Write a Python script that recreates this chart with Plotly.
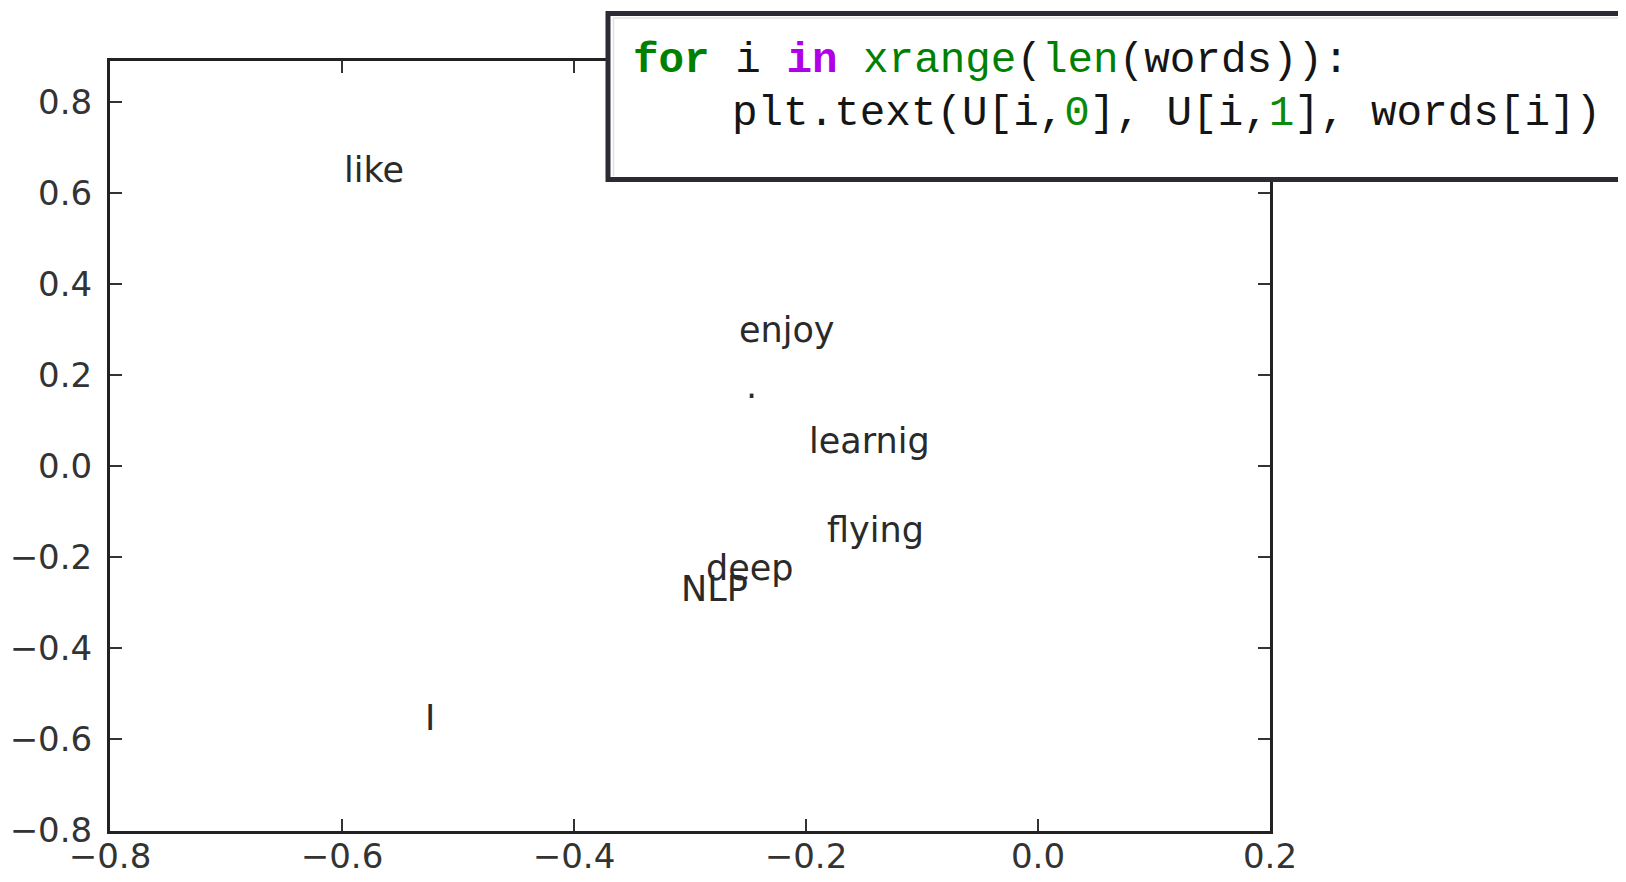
import plotly.graph_objects as go

# ---- data ----
words = ["I", "like", "enjoy", "deep", "learnig", "NLP", "flying", "."]
word_x = [-0.529, -0.599, -0.259, -0.287, -0.198, -0.309, -0.183, -0.253]
word_y = [-0.579, 0.625, 0.275, -0.248, 0.031, -0.294, -0.166, 0.151]

x_ticks = [-0.8, -0.6, -0.4, -0.2, 0.0, 0.2]
x_tick_text = ["\u22120.8", "\u22120.6", "\u22120.4", "\u22120.2", "0.0", "0.2"]
y_ticks = [-0.8, -0.6, -0.4, -0.2, 0.0, 0.2, 0.4, 0.6, 0.8]
y_tick_text = ["\u22120.8", "\u22120.6", "\u22120.4", "\u22120.2", "0.0", "0.2", "0.4", "0.6", "0.8"]

x_range = [-0.8, 0.2]
y_range = [-0.802, 0.89]

code_lines = [
    "<b><span style='color:#008000'>for</span></b>\u00a0i\u00a0"
    "<b><span style='color:#B000E8'>in</span></b>\u00a0"
    "<span style='color:#008000'>xrange</span>(<span style='color:#008000'>len</span>(words)):",
    "plt.text(U[i,<span style='color:#0A8A0A'>0</span>],\u00a0U[i,"
    "<span style='color:#0A8A0A'>1</span>],\u00a0words[i])",
]

# ---- geometry (page pixels; the page body has an 8px margin) ----
OFF = 8
W, H = 1626 - OFF, 882 - 2 * OFF
L, R, T, B = 110, 1270, 61, 831      # plot area in page pixels
PW, PH = R - L, B - T


def px_x(p):
    return (p - L) / PW


def px_y(p):
    return (B - p) / PH


fig = go.Figure()

# invisible trace to establish axes
fig.add_trace(go.Scatter(x=word_x, y=word_y, mode="markers",
                         marker=dict(size=1, opacity=0), hoverinfo="skip",
                         showlegend=False))

word_font = dict(family="DejaVu Sans", size=35, color="#2a2a2a")
annotations = []
for w, xv, yv in zip(words, word_x, word_y):
    annotations.append(dict(x=xv, y=yv, xref="x", yref="y", text=w,
                            showarrow=False, xanchor="left", yanchor="bottom",
                            yshift=-10.8, xshift=-1, font=word_font))

CODE_SIZE = 42.6
code_font = dict(family="Liberation Mono, Courier New, monospace", size=CODE_SIZE,
                 color="#151515")
code_x = [631, 730]
code_base = [72.7, 125.0]
for line, cx, cb in zip(code_lines, code_x, code_base):
    mid = cb - 0.2665 * CODE_SIZE
    annotations.append(dict(x=px_x(cx), y=px_y(mid), xref="paper", yref="paper",
                            text=line, showarrow=False, xanchor="left",
                            yanchor="middle", align="left", font=code_font))

shapes = [
    dict(type="rect", xref="paper", yref="paper",
         x0=px_x(608), x1=px_x(1680), y0=px_y(179.5), y1=px_y(13.5),
         line=dict(color="#2b2b36", width=5), fillcolor="white", layer="above"),
    dict(type="line", xref="paper", yref="paper",
         x0=px_x(613.5), x1=px_x(1640), y0=px_y(18), y1=px_y(18),
         line=dict(color="#e2e2e2", width=1.5), layer="above"),
    dict(type="line", xref="paper", yref="paper",
         x0=px_x(613.5), x1=px_x(613.5), y0=px_y(176), y1=px_y(18),
         line=dict(color="#e2e2e2", width=1.5), layer="above"),
]

axis_common = dict(showgrid=False, zeroline=False, showline=True,
                   linecolor="#222222", linewidth=3, mirror="ticks",
                   ticks="inside", ticklen=12, tickwidth=2, tickcolor="#333333",
                   automargin=False,
                   tickfont=dict(family="DejaVu Sans", size=34, color="#333333"))

fig.update_layout(
    width=W, height=H, autosize=False,
    margin=dict(l=L - OFF, r=W - (R - OFF), t=T - OFF, b=H - (B - OFF),
                pad=0, autoexpand=False),
    paper_bgcolor="white", plot_bgcolor="white",
    showlegend=False,
    xaxis=dict(range=x_range, tickvals=x_ticks, ticktext=x_tick_text,
               ticklabelstandoff=-7, **axis_common),
    yaxis=dict(range=y_range, tickvals=y_ticks, ticktext=y_tick_text,
               ticklabelstandoff=8, **axis_common),
    annotations=annotations,
    shapes=shapes,
)

fig.write_html("out.html")
